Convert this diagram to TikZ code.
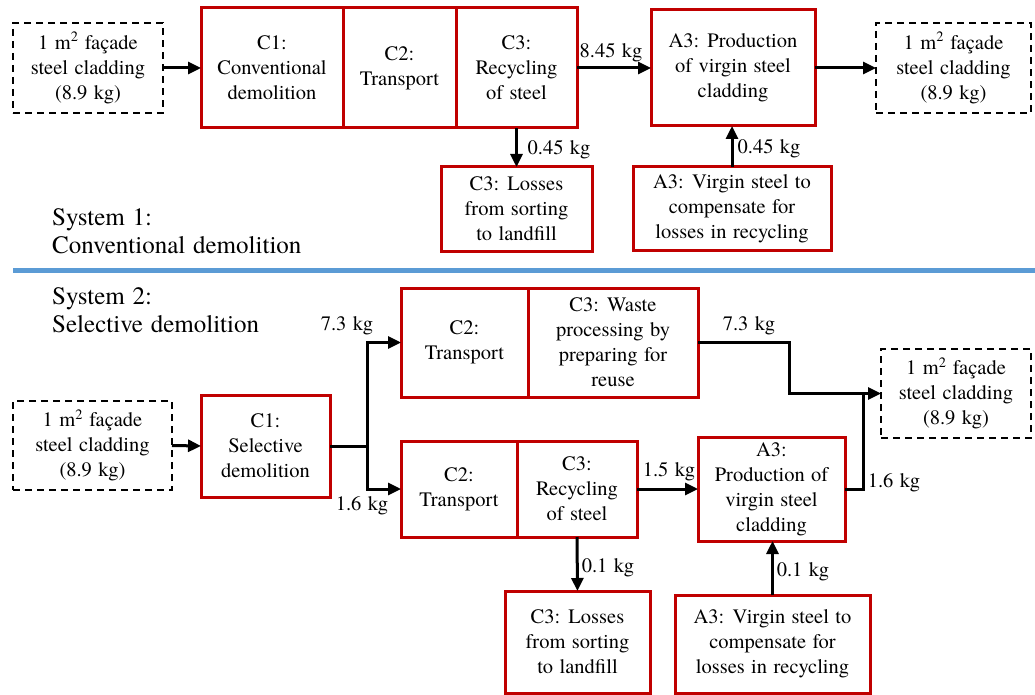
\documentclass[tikz,border=0pt]{standalone}
\usepackage{fontspec}
\IfFontExistsTF{texgyretermes-regular.otf}{\setmainfont{texgyretermes}[Extension=.otf,UprightFont=*-regular,WordSpace=1.25]}{\setmainfont{Liberation Serif}}
\usetikzlibrary{arrows.meta}
\definecolor{boxred}{HTML}{C00000}
\definecolor{lineblue}{HTML}{5B9BD5}
\begin{document}
\begin{tikzpicture}[x=1pt,y=-1pt,
  txt/.style={font=\fontsize{20.5}{25}\selectfont, align=center},
  rbox/.style={txt, draw=boxred, line width=3pt, inner sep=0pt, outer sep=0pt},
  dbox/.style={txt, draw=black, line width=2pt, dash pattern=on 7pt off 5pt, inner sep=0pt, outer sep=0pt},
  flow/.style={line width=3pt, -{Triangle[length=13pt,width=12pt]}},
  plain/.style={line width=3pt},
  lbl/.style={font=\fontsize{20.5}{25}\selectfont, inner sep=0pt},
  syslbl/.style={font=\fontsize{25}{28}\selectfont, align=left, anchor=west, inner sep=0pt}]
\useasboundingbox (0,0) rectangle (1035,695);

% ---------- System 1 ----------
\node[dbox, minimum width=150pt, minimum height=90pt] (d1) at (88,68) {1 m\textsuperscript{2} façade\\steel cladding\\(8.9 kg)};
\node[rbox, minimum width=142pt, minimum height=120pt] (c1) at (272,68) {C1:\\Conventional\\demolition};
\node[rbox, minimum width=113pt, minimum height=120pt] (c2) at (399.5,68) {C2:\\Transport};
\node[rbox, minimum width=121pt, minimum height=120pt] (c3) at (516.5,68) {C3:\\Recycling\\of steel};
\node[rbox, minimum width=164pt, minimum height=116pt] (a3) at (733,68) {A3: Production\\of virgin steel\\cladding};
\node[dbox, minimum width=155pt, minimum height=90pt] (d2) at (953.5,68) {1 m\textsuperscript{2} façade\\steel cladding\\(8.9 kg)};
\node[rbox, minimum width=151pt, minimum height=84pt] (loss1) at (516.5,209) {C3: Losses\\from sorting\\to landfill};
\node[rbox, minimum width=198pt, minimum height=83pt] (virg1) at (732,208.5) {A3: Virgin steel to\\compensate for\\losses in recycling};

\draw[flow] (d1.east) -- (c1.west);
\draw[flow] (c3.east) -- (a3.west);
\draw[flow] (a3.east) -- (d2.west);
\draw[flow] (c3.south) -- (loss1.north);
\draw[flow] (virg1.north) -- (virg1.north |- a3.south);

\node[lbl] (l845) at (611,53) {8.45 kg};
\node[lbl] (l045a) at (559,150) {0.45 kg};
\node[lbl] (l045b) at (769,149) {0.45 kg};

\node[syslbl] (sys1) at (52,231) {System 1:\\Conventional demolition};

% separator
\draw[lineblue, line width=5pt] (13,270) -- (1035,270);

% ---------- System 2 ----------
\node[syslbl] (sys2) at (52,310) {System 2:\\Selective demolition};

\node[dbox, minimum width=159pt, minimum height=89pt] (d3) at (92.5,445.5) {1 m\textsuperscript{2} façade\\steel cladding\\(8.9 kg)};
\node[rbox, minimum width=129pt, minimum height=102pt] (s1) at (265.5,446) {C1:\\Selective\\demolition};
\node[rbox, minimum width=127pt, minimum height=109pt] (t1) at (464.5,342.5) {C2:\\Transport};
\node[rbox, minimum width=170pt, minimum height=109pt] (w1) at (613,342.5) {C3: Waste\\processing by\\preparing for\\reuse};
\node[rbox, minimum width=116pt, minimum height=96pt] (t2) at (459,489) {C2:\\Transport};
\node[rbox, minimum width=120pt, minimum height=96pt] (r2) at (577,489) {C3:\\Recycling\\of steel};
\node[rbox, minimum width=147pt, minimum height=104pt] (a32) at (771.5,489) {A3:\\Production of\\virgin steel\\cladding};
\node[dbox, minimum width=150pt, minimum height=89pt] (d4) at (956,393.5) {1 m\textsuperscript{2} façade\\steel cladding\\(8.9 kg)};
\node[rbox, minimum width=145pt, minimum height=102pt] (loss2) at (577.5,642) {C3: Losses\\from sorting\\to landfill};
\node[rbox, minimum width=195pt, minimum height=98pt] (virg2) at (772.5,644) {A3: Virgin steel to\\compensate for\\losses in recycling};

\coordinate (split) at (367,446);
\coordinate (bend) at (789,393.5);
\coordinate (join) at (863,393.5);

\draw[flow] (d3.east) -- (s1.west);
\draw[plain] (s1.east) -- (split);
\draw[flow] (split) |- (t1.west);
\draw[flow] (split) |- (t2.west);
\draw[flow] (w1.east) -| (bend) -- (join) -- (d4.west);
\draw[plain] (a32.east) -| (join);
\draw[flow] (r2.east) -- (a32.west);
\draw[flow] (r2.south) -- (loss2.north);
\draw[flow] (virg2.north) -- (virg2.north |- a32.south);

\node[lbl] (l73a) at (347,326) {7.3 kg};
\node[lbl] (l16a) at (362,506) {1.6 kg};
\node[lbl] (l73b) at (749,326) {7.3 kg};
\node[lbl] (l15) at (669,472) {1.5 kg};
\node[lbl] (l16b) at (894,483) {1.6 kg};
\node[lbl] (l01a) at (608,568) {0.1 kg};
\node[lbl] (l01b) at (803,572) {0.1 kg};
\end{tikzpicture}
\end{document}
